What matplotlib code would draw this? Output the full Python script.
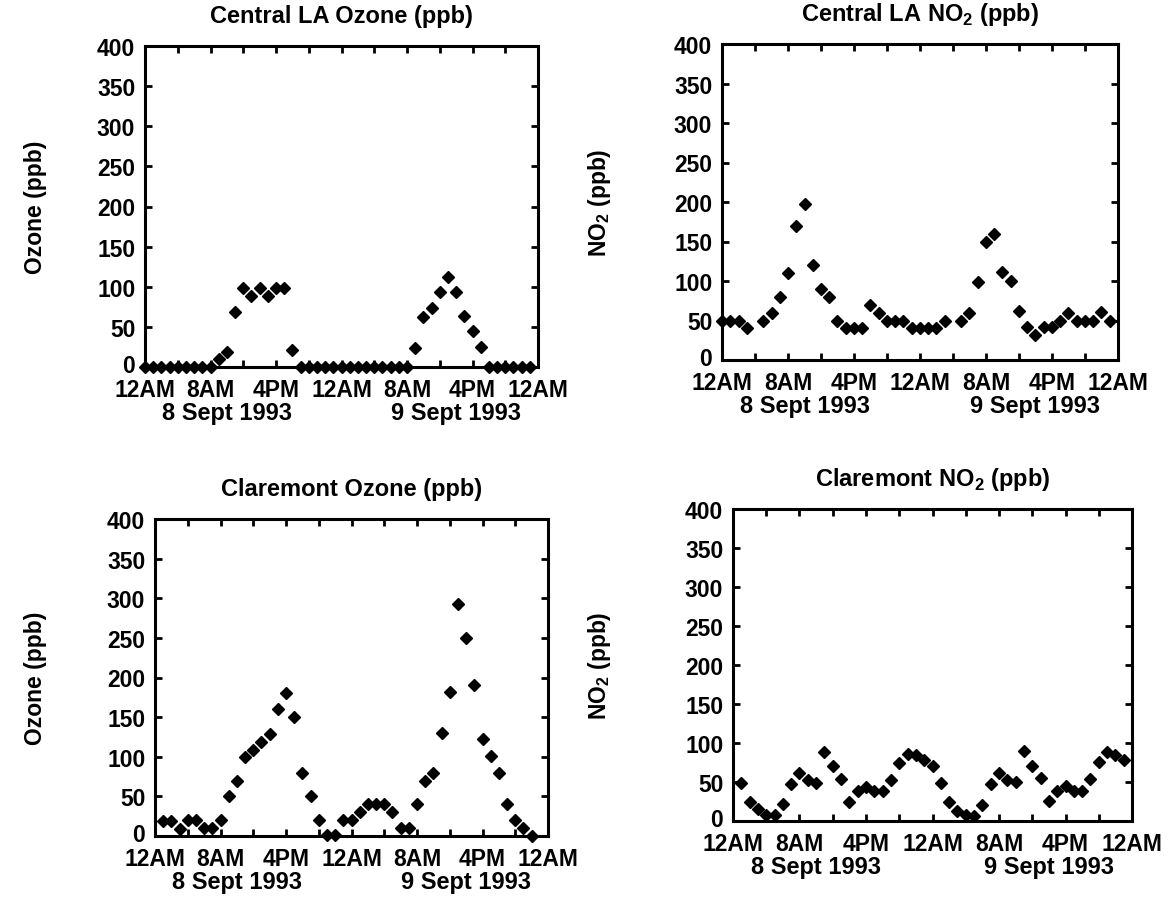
import numpy as np
import matplotlib
matplotlib.use("Agg")
import matplotlib.pyplot as plt
import matplotlib.transforms as mtransforms

# hourly readings, 8-9 Sept 1993 (hour 0 = 12AM on 8 Sept)
la_o3_hours = list(range(0, 48))
la_o3 = [0, 0, 0, 0, 0, 0, 0, 0, 0, 10, 19, 69, 98, 88, 98, 88, 99, 99, 21,
         0, 0, 0, 0, 0, 0, 0, 0, 0, 0, 0, 0, 0, 0,
         24, 62, 73, 94, 112, 94, 64, 45, 25,
         0, 0, 0, 0, 0, 0]

la_no2_hours = [0, 1, 2, 3, 5, 6, 7, 8, 9, 10, 11, 12, 13, 14, 15, 16, 17, 18, 19,
                20, 21, 22, 23, 24, 25, 26, 27, 29, 30, 31, 32, 33, 34, 35, 36,
                37, 38, 39, 40, 41, 42, 43, 44, 45, 46, 47]
la_no2 = [50, 50, 50, 40, 50, 60, 80, 110, 170, 198, 120, 90, 80, 50, 40, 40,
          40, 69, 60, 50, 50, 50, 40, 40, 40, 40, 50, 50, 60, 99, 150, 160,
          112, 100, 62, 42, 32, 42, 42, 50, 60, 50, 50, 50, 61, 50]

cl_o3_hours = list(range(1, 47))
cl_o3 = [19, 19, 9, 20, 20, 10, 10, 20, 51, 70, 100, 109, 119, 129, 160, 180,
         150, 80, 50, 20, 1, 1, 20, 20, 30, 40, 40, 40, 30, 10, 10, 40, 70, 80,
         130, 182, 293, 250, 190, 122, 101, 80, 40, 20, 10, 0]

cl_no2_hours = list(range(1, 48))
cl_no2 = [49, 24, 15, 8, 8, 22, 47, 62, 52, 49, 88, 70, 54, 25, 38, 44, 39,
          38, 53, 74, 86, 84, 78, 70, 49, 24, 13, 8, 7, 21, 47, 62, 53, 50, 90,
          71, 55, 26, 39, 45, 39, 39, 54, 76, 88, 84, 78]

tick_hours = list(range(0, 49, 4))
hour_labels = ["12AM", "", "8AM", "", "4PM", "", "12AM", "", "8AM", "", "4PM", "", "12AM"]
day_labels = ["8 Sept 1993", "9 Sept 1993"]
day_centres = [10, 38]

plt.rcParams["font.family"] = ["Liberation Sans", "DejaVu Sans"]
plt.rcParams["font.weight"] = "bold"
plt.rcParams["mathtext.fontset"] = "custom"
plt.rcParams["mathtext.rm"] = "Liberation Sans:bold"
plt.rcParams["mathtext.bf"] = "Liberation Sans:bold"

fig = plt.figure(figsize=(11.73, 9.04), dpi=100)

W, H = 1173, 904
# pixel boxes: left, top, right, bottom
boxes = [(145, 47, 538, 368), (722, 45, 1118, 361),
         (155, 520, 548, 837), (733, 510, 1132, 822)]
titles = ["Central LA Ozone (ppb)", r"Central LA NO$_\mathbf{2}$ (ppb)",
          "Claremont Ozone (ppb)", r"Claremont NO$_\mathbf{2}$ (ppb)"]
ylabels = ["Ozone (ppb)", r"NO$_\mathbf{2}$ (ppb)", "Ozone (ppb)", r"NO$_\mathbf{2}$ (ppb)"]
ylabel_x = [47, 613, 47, 613]
series = [(la_o3_hours, la_o3), (la_no2_hours, la_no2),
          (cl_o3_hours, cl_o3), (cl_no2_hours, cl_no2)]

for (l, t, r, b), title, ylab, yx, (xs, ys) in zip(boxes, titles, ylabels, ylabel_x, series):
    ax = fig.add_axes([l / W, 1 - b / H, (r - l) / W, (b - t) / H])
    ax.plot(xs, ys, linestyle="none", marker="D", markersize=6, color="black",
            clip_on=False, zorder=3)
    ax.set_xlim(0, 48)
    ax.set_ylim(0, 400)
    ax.set_xticks(tick_hours)
    ax.set_xticklabels(hour_labels)
    ax.set_yticks(range(0, 401, 50))
    ax.tick_params(direction="in", top=True, right=True, length=5, width=2,
                   labelsize=16.5)
    ax.tick_params(axis="x", pad=8)
    ax.tick_params(axis="y", pad=7)
    # lift the "0" label a little so it clears the 12AM label below it
    zero_lab = ax.yaxis.get_major_ticks()[0].label1
    zero_lab.set_transform(zero_lab.get_transform()
                           + mtransforms.ScaledTranslation(0, 3 / 72, fig.dpi_scale_trans))
    for s in ax.spines.values():
        s.set_linewidth(2.2)
    ax.set_title(title, fontsize=17, fontweight="bold", pad=17)
    ax.set_ylabel(ylab, fontsize=16.5, fontweight="bold")
    ax.yaxis.set_label_coords((yx - l) / (r - l), 0.5)
    trans = mtransforms.blended_transform_factory(ax.transData, ax.transAxes)
    for dx, dl in zip(day_centres, day_labels):
        ax.text(dx, -46 / (b - t), dl, transform=trans, ha="center", va="center",
                fontsize=17, fontweight="bold")

fig.savefig("out.png", dpi=100)
